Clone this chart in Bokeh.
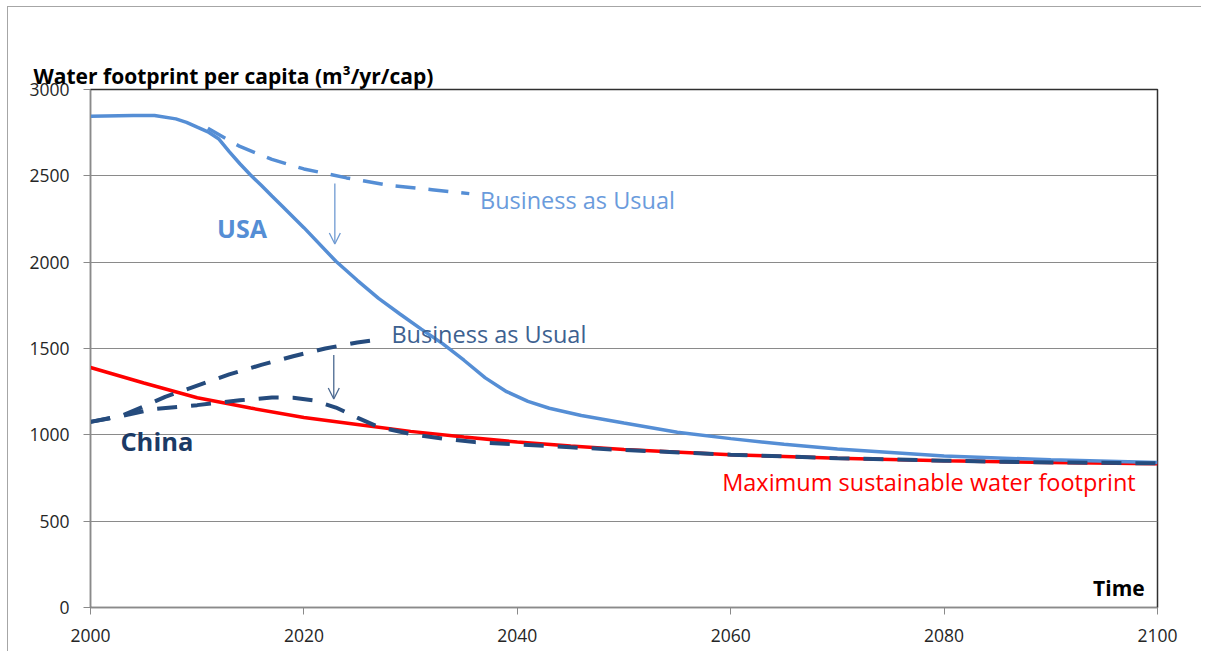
from bokeh.plotting import figure
from bokeh.models import Label, Arrow, OpenHead, FixedTicker, Range1d, Title
from bokeh.embed import file_html
from bokeh.resources import INLINE

# ---------------- data ----------------
usa_years = [2000, 2004, 2006, 2008, 2009, 2010, 2011, 2012, 2013, 2014, 2015, 2016, 2017,
             2018, 2020, 2023, 2025, 2027, 2029, 2031, 2033, 2035, 2037, 2039, 2041, 2043,
             2046, 2050, 2055, 2060, 2065, 2070, 2080, 2090, 2100]
usa_values = [2845, 2850, 2850, 2830, 2810, 2782, 2755, 2715, 2640, 2570, 2505, 2445, 2383,
              2322, 2200, 2005, 1895, 1790, 1700, 1612, 1528, 1432, 1330, 1250, 1194, 1154,
              1112, 1068, 1015, 978, 945, 918, 878, 855, 840]

usa_bau_years = [2011, 2014, 2017, 2020, 2024, 2028, 2032, 2035.5]
usa_bau_values = [2775, 2670, 2595, 2540, 2488, 2445, 2420, 2397]

china_years = [2000, 2003, 2006, 2010, 2014, 2017, 2019, 2021, 2023, 2025, 2027, 2030, 2033,
               2036, 2040, 2045, 2050, 2060, 2070, 2080, 2090, 2100]
china_values = [1075, 1110, 1150, 1172, 1200, 1216, 1215, 1198, 1158, 1100, 1045, 1005, 978,
                958, 945, 928, 912, 885, 865, 850, 840, 835]

china_bau_years = [2000, 2003, 2005, 2007, 2010, 2013, 2016, 2019, 2022, 2025, 2027.3]
china_bau_values = [1075, 1112, 1165, 1220, 1285, 1350, 1405, 1455, 1500, 1535, 1555]

max_years = [2000, 2005, 2010, 2015, 2020, 2025, 2030, 2035, 2040, 2045, 2050, 2060, 2070,
             2080, 2090, 2100]
max_values = [1390, 1300, 1215, 1155, 1100, 1060, 1020, 988, 958, 935, 915, 885, 865, 850,
              840, 833]

x_ticks = [2000, 2020, 2040, 2060, 2080, 2100]
y_ticks = [0, 500, 1000, 1500, 2000, 2500, 3000]
grid_ticks = [0, 500, 1000, 1500, 2000, 2500]

# ---------------- colours ----------------
USA_C = "#558ED5"
CHINA_C = "#254B7D"
RED_C = "#FF0000"
GRID_C = "#8A8A8A"
FONT = "Open Sans"

p = figure(width=1194, height=645, output_backend="svg", toolbar_location=None,
           x_range=Range1d(2000, 2100), y_range=Range1d(0, 3000),
           min_border_left=82, min_border_right=45, min_border_top=82, min_border_bottom=45)
p.styles = {"border-left": "1px solid #a6a6a6", "border-top": "1px solid #a6a6a6",
            "margin-left": "7px", "margin-top": "6px"}
p.outline_line_color = "#303030"
p.outline_line_width = 1.5
p.background_fill_color = "white"
p.border_fill_color = "white"

# real title, with an invisible spacer title between it and the frame
p.title.text = "Water footprint per capita (m³/yr/cap)"
p.title.align = "left"
p.title.offset = -57
p.title.standoff = 0
p.title.text_font = FONT
p.title.text_font_size = "21px"
p.title.text_font_style = "bold"
p.title.text_color = "#000000"
p.add_layout(Title(text=".", text_alpha=0, text_font=FONT, text_font_size="13px",
                   standoff=13), "above")

p.xgrid.grid_line_color = None
p.ygrid.grid_line_color = GRID_C
p.ygrid.grid_line_width = 1
p.ygrid.ticker = FixedTicker(ticks=grid_ticks)
p.yaxis.ticker = FixedTicker(ticks=y_ticks)
p.xaxis.ticker = FixedTicker(ticks=x_ticks)
for ax in (p.xaxis[0], p.yaxis[0]):
    ax.axis_line_color = GRID_C
    ax.major_tick_line_color = GRID_C
    ax.major_tick_out = 7
    ax.major_tick_in = 0
    ax.minor_tick_line_color = None
    ax.major_label_text_font = FONT
    ax.major_label_text_font_size = "17.5px"
    ax.major_label_text_color = "#262626"
    ax.major_label_standoff = 14

# lines
p.line(max_years, max_values, line_color=RED_C, line_width=3.5)
p.line(usa_years, usa_values, line_color=USA_C, line_width=3.5)
p.line(usa_bau_years, usa_bau_values, line_color=USA_C, line_width=3.5, line_dash="20 13")
p.line(china_bau_years, china_bau_values, line_color=CHINA_C, line_width=4, line_dash="20 14")
p.line(china_years, china_values, line_color=CHINA_C, line_width=4, line_dash="20 14")

# arrows
p.add_layout(Arrow(end=OpenHead(size=11, line_color="#6F9AD2", line_width=1.3),
                   x_start=2022.9, y_start=2455, x_end=2022.9, y_end=2105,
                   line_color="#6F9AD2", line_width=1.3))
p.add_layout(Arrow(end=OpenHead(size=11, line_color="#4A6890", line_width=1.3),
                   x_start=2022.8, y_start=1462, x_end=2022.8, y_end=1208,
                   line_color="#4A6890", line_width=1.3))

# labels
def lab(x, y, text, color, size, bold=False, align="left"):
    p.add_layout(Label(x=x, y=y, text=text, text_color=color, text_font=FONT,
                       text_font_size=size, text_font_style="bold" if bold else "normal",
                       text_align=align, text_baseline="middle"))

lab(2014.2, 2195, "USA", USA_C, "25px", bold=True, align="center")
lab(2002.8, 967, "China", "#1B3A66", "25.5px", bold=True)
lab(2036.5, 2362, "Business as Usual", "#6A9BDC", "23.5px")
lab(2028.2, 1583, "Business as Usual", "#3D6190", "23.5px")
lab(2059.2, 724, "Maximum  sustainable water footprint", RED_C, "23.5px")
lab(2098.8, 112, "Time", "#000000", "21px", bold=True, align="right")

open("out.html", "w").write(file_html(p, INLINE))
